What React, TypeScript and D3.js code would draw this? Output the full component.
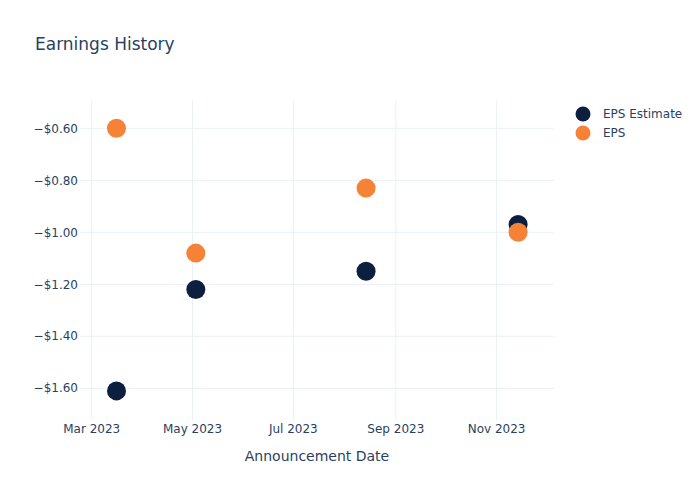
import React from "react";
import * as d3 from "d3";

const dates = ["2023-03-16", "2023-05-03", "2023-08-14", "2023-11-14"];
const epsEstimate = [-1.61, -1.22, -1.15, -0.97];
const eps = [-0.6, -1.08, -0.83, -1.0];
const yTicks = [-0.6, -0.8, -1.0, -1.2, -1.4, -1.6];
const xTickDates = ["2023-03-01", "2023-05-01", "2023-07-01", "2023-09-01", "2023-11-01"];
const xDomain = ["2023-02-21T22:00:00Z", "2023-12-05T17:00:00Z"];
const yDomain = [-1.722, -0.491];
const seriesNames = ["EPS Estimate", "EPS"];
const seriesColors = ["#0c1f3f", "#f58236"];

const W = 700, H = 500;
const L = 80, R = 554, T = 100, B = 420;
const FONT = "'DejaVu Sans', 'Open Sans', Verdana, Arial, sans-serif";
const TXT = "#2a3f5f";
const GRID = "#ebf0f8";

export default function App() {
  const parse = d3.utcParse("%Y-%m-%d");
  const x = d3.scaleUtc()
    .domain([new Date(xDomain[0]), new Date(xDomain[1])])
    .range([L, R]);
  const y = d3.scaleLinear().domain(yDomain).range([B, T]);
  const fmtX = d3.utcFormat("%b %Y");
  const fmtY = (v: number) => "\u2212$" + Math.abs(v).toFixed(2);
  const series = [epsEstimate, eps];

  return (
    <svg width={W} height={H} style={{ position: "absolute", left: 0, top: 0, background: "#fff" }}>
      <rect x={0} y={0} width={W} height={H} fill="#fff" />
      {yTicks.map((t) => (
        <line key={"gy" + t} x1={L} x2={R} y1={y(t)} y2={y(t)} stroke={GRID} strokeWidth={1} />
      ))}
      {xTickDates.map((d) => (
        <line key={"gx" + d} x1={x(parse(d)!)} x2={x(parse(d)!)} y1={T} y2={B} stroke={GRID} strokeWidth={1} />
      ))}
      {yTicks.map((t) => (
        <text key={"ty" + t} x={L - 2} y={y(t)} dy="0.35em" textAnchor="end" fontFamily={FONT} fontSize={12} fill={TXT}>
          {fmtY(t)}
        </text>
      ))}
      {xTickDates.map((d) => (
        <text key={"tx" + d} x={x(parse(d)!)} y={B + 4} dy="0.71em" textAnchor="middle" fontFamily={FONT} fontSize={12} fill={TXT}>
          {fmtX(parse(d)!)}
        </text>
      ))}
      {series.map((vals, si) =>
        vals.map((v, i) => (
          <circle key={si + "-" + i} cx={x(parse(dates[i])!)} cy={y(v)} r={9.5} fill={seriesColors[si]} />
        ))
      )}
      <text x={35} y={50} fontFamily={FONT} fontSize={17} fill={TXT}>Earnings History</text>
      <text x={(L + R) / 2} y={461} textAnchor="middle" fontFamily={FONT} fontSize={14} fill={TXT}>Announcement Date</text>
      {seriesNames.map((n, i) => (
        <g key={n} transform={`translate(583, ${114 + i * 19})`}>
          <circle cx={0} cy={0} r={7.5} fill={seriesColors[i]} />
          <text x={20} y={0} dy="0.35em" fontFamily={FONT} fontSize={12} fill={TXT}>{n}</text>
        </g>
      ))}
    </svg>
  );
}
